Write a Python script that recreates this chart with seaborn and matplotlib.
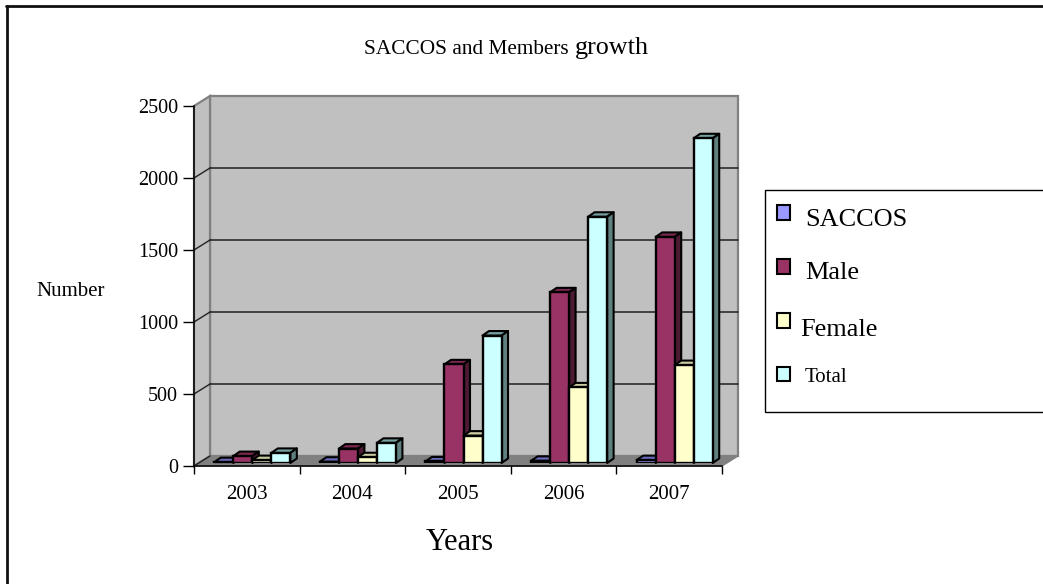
import matplotlib
matplotlib.use("Agg")
import matplotlib.pyplot as plt
from matplotlib.patches import Polygon, Patch, Rectangle
from matplotlib.lines import Line2D
import pandas as pd
import seaborn as sns

years = ["2003", "2004", "2005", "2006", "2007"]
saccos = [6, 9, 11, 15, 20]
male = [48, 100, 685, 1185, 1570]
female = [20, 40, 190, 525, 680]
total = [70, 140, 885, 1710, 2255]
series_names = ["SACCOS", "Male", "Female", "Total"]
front_colors = ["#9999FF", "#993366", "#FFFFCC", "#CCFFFF"]
top_colors = ["#6A6AB8", "#7A2850", "#CCCCA3", "#76A0A0"]
side_colors = ["#4D4D80", "#4D1A33", "#808066", "#608080"]

W, H = 1043, 584
sns.set_theme(style="white")
plt.rcParams["font.family"] = ["Liberation Serif", "DejaVu Serif"]

df = pd.DataFrame({"Year": years, "SACCOS": saccos, "Male": male, "Female": female, "Total": total})
long_df = df.melt(id_vars="Year", var_name="Series", value_name="Number")

fig = plt.figure(figsize=(W / 100, H / 100), dpi=100, facecolor="white")


def px_axes(left, top, right, bottom):
    return fig.add_axes([left / W, (H - bottom) / H, (right - left) / W, (bottom - top) / H])


L, R, T, B = 194, 722, 106, 466
ax = px_axes(L, T, R, B)
ax.set_xlim(-0.5, 4.5)
ax.set_ylim(0, 2500)
ax.set_facecolor("none")
upx = 5 / (R - L)          # data units per pixel, x
vpx = 2500 / (B - T)       # data units per pixel, y
wall_dx, wall_dy = 16 * upx, 10 * vpx

# 3-D style walls
x0, x1 = ax.get_xlim()
y0, y1 = ax.get_ylim()
wall = dict(facecolor="#C0C0C0", edgecolor="#808080", linewidth=1.6, clip_on=False, zorder=0)
ax.add_patch(Polygon([(x0 + wall_dx, y0 + wall_dy), (x1 + wall_dx, y0 + wall_dy),
                      (x1 + wall_dx, y1 + wall_dy), (x0 + wall_dx, y1 + wall_dy)], **wall))
ax.add_patch(Polygon([(x0, y0), (x0 + wall_dx, y0 + wall_dy), (x0 + wall_dx, y1 + wall_dy), (x0, y1)], **wall))
ax.add_patch(Polygon([(x0, y0), (x1, y0), (x1 + wall_dx, y0 + wall_dy), (x0 + wall_dx, y0 + wall_dy)],
                     facecolor="#808080", edgecolor="#808080", linewidth=1, clip_on=False, zorder=0.5))
yticks = [0, 500, 1000, 1500, 2000, 2500]
for v in yticks[1:-1]:
    ax.plot([x0 + wall_dx, x1 + wall_dx], [v + wall_dy, v + wall_dy], color="#202020", lw=1.1,
            clip_on=False, zorder=1)
for v in yticks[:-1]:
    ax.plot([x0, x0 + wall_dx], [v, v + wall_dy], color="#202020", lw=1.0, clip_on=False, zorder=1)

ax.set_yticks(yticks)
ax.set_xticks([i - 0.5 for i in range(6)])
ax.set_xticklabels([])
ax.set_xticks(range(5), minor=True)
ax.set_xticklabels(years, minor=True)
ax.tick_params(axis="x", which="major", length=8 * 0.72, width=1, color="black", bottom=True, pad=0)
ax.tick_params(axis="x", which="minor", length=0, pad=14, labelsize=15)
ax.tick_params(axis="y", length=8, width=1, color="black", left=True, pad=3.5, labelsize=14.5)
for lab in ax.get_yticklabels() + ax.get_xticklabels(minor=True):
    lab.set_color("black")
for side, s in ax.spines.items():
    s.set_visible(side in ("left", "bottom"))
    s.set_color("black")
    s.set_linewidth(1.1)
    s.set_zorder(2)
ax.set_xlabel("")
ax.set_ylabel("")

# bars sit part-way into the floor, so their plane is shifted
bar_dx, bar_dy = 5.5, 3
ax_bars = px_axes(L + bar_dx, T - bar_dy, R + bar_dx, B - bar_dy)
ax_bars.patch.set_alpha(0)
sns.barplot(data=long_df, x="Year", y="Number", hue="Series", hue_order=series_names,
            palette=front_colors, width=0.72, gap=0, saturation=1, edgecolor="black",
            linewidth=1.7, legend=False, ax=ax_bars)
ax_bars.set_xlim(-0.5, 4.5)
ax_bars.set_ylim(0, 2500)
ax_bars.axis("off")

# top and side faces derived from each drawn bar
depth_x, depth_y = 6.5 * upx, 4.5 * vpx
for i, cont in enumerate(ax_bars.containers):
    for bar in cont:
        bx, bw, bh = bar.get_x(), bar.get_width(), bar.get_height()
        bar.set_zorder(3 + i + 0.5)
        edge = dict(edgecolor="black", linewidth=1.5, clip_on=False, zorder=3 + i, joinstyle="round")
        ax_bars.add_patch(Polygon([(bx, bh), (bx + bw, bh), (bx + bw + depth_x, bh + depth_y),
                                   (bx + depth_x, bh + depth_y)], facecolor=top_colors[i], **edge))
        ax_bars.add_patch(Polygon([(bx + bw, 0), (bx + bw + depth_x, depth_y),
                                   (bx + bw + depth_x, bh + depth_y), (bx + bw, bh)],
                                  facecolor=side_colors[i], **edge))

# texts
t1 = fig.text(364 / W, 1 - 49 / H, "SACCOS and Members", fontsize=15.3, color="black", ha="left", va="center")
t2 = fig.text(575 / W, 1 - 48 / H, "growth", fontsize=18.8, color="black", ha="left", va="center")
fig.text(71 / W, 1 - 291 / H, "Number", fontsize=15, color="black", ha="center", va="center")
fig.text(460 / W, 1 - 542 / H, "Years", fontsize=22, color="black", ha="center", va="center")

# legend: frame runs off the right edge of the picture
fig.add_artist(Rectangle((765 / W, (H - 412) / H), 300 / W, 222 / H, transform=fig.transFigure,
                         facecolor="white", edgecolor="black", linewidth=1.0, zorder=5))
handles = [Patch(facecolor=c, edgecolor="black", linewidth=1.5) for c in front_colors]
leg = fig.legend(handles, series_names, bbox_to_anchor=(762 / W, (H - 190) / H),
                 loc="upper left", ncols=1, prop={"size": 18.9}, frameon=False,
                 handlelength=0.52, handleheight=0.46,
                 handletextpad=0.55, labelspacing=1.22, borderpad=0.565, borderaxespad=0, labelcolor="black")
leg.set_zorder(6)
leg.get_texts()[3].set_fontsize(15)
leg.get_texts()[0].set_position((0, -4))
leg.get_texts()[1].set_position((0, -3))
leg.get_texts()[2].set_position((-5, -6))
leg.get_texts()[3].set_position((0, 1))

# outer chart frame (top and left edges visible)
fig.add_artist(Line2D([7 / W, 7 / W], [0, 1 - 6 / H], color="#111111", lw=2))
fig.add_artist(Line2D([6 / W, 1], [1 - 6 / H, 1 - 6 / H], color="#111111", lw=2))

fig.savefig("out.png", dpi=100)
